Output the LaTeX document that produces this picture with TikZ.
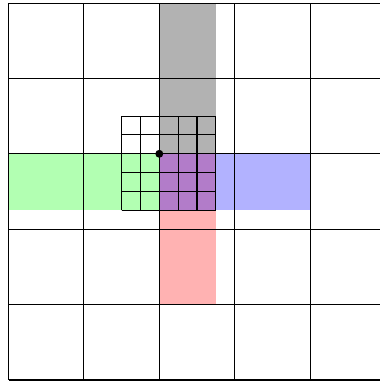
\documentclass[tikz,border=0pt]{standalone}
\usetikzlibrary{calc}

\begin{document}
\begin{tikzpicture}
					\useasboundingbox (-0.113,-0.04) rectangle (4.914,5.04);
					\coordinate (P) at (2,3);
					\coordinate (G) at (2.75,5); \coordinate (L) at (0,2.25);
					\coordinate (B) at (4,2.25); \coordinate (R) at (2.75,1);
					\fill[black, opacity=0.3] (P) rectangle (G);
					\fill[green, opacity=0.3] (L) rectangle (P);
					\fill[red, opacity=0.3] (P) rectangle (R);
					\fill[blue, opacity=0.3] (P) rectangle (B);
					\draw (0,0) grid (5,5);
					\draw[step=0.25] (1.499,2.249) grid (2.751,3.501);
					\fill (P) circle (1.5pt);
				\end{tikzpicture}
\end{document}
